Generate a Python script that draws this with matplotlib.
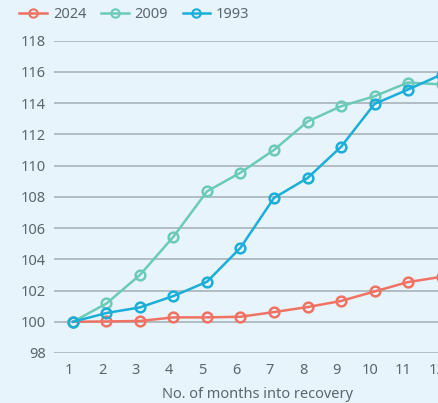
import matplotlib
matplotlib.use("Agg")
import matplotlib.pyplot as plt
from matplotlib.lines import Line2D
from matplotlib.transforms import ScaledTranslation

months = [1, 2, 3, 4, 5, 6, 7, 8, 9, 10, 11, 12]
series_2024 = [100, 100.02, 100.05, 100.28, 100.28, 100.32, 100.62, 100.94, 101.33, 101.94, 102.54, 102.88]
series_2009 = [100, 101.17, 103.0, 105.45, 108.35, 109.55, 111.0, 112.82, 113.8, 114.44, 115.32, 115.2]
series_1993 = [100, 100.56, 100.92, 101.65, 102.56, 104.74, 107.93, 109.2, 111.2, 113.95, 114.87, 115.83]
y_ticks = [98, 100, 102, 104, 106, 108, 110, 112, 114, 116, 118]
labels = ["2024", "2009", "1993"]

bg = "#e8f4fb"
text_col = "#5b6770"
grid_col = "#a8b2b9"
colors = ["#f07263", "#6ccab9", "#1aaed8"]

plt.rcParams["font.family"] = ["Noto Sans", "DejaVu Sans"]

fig = plt.figure(figsize=(4.39, 4.03), dpi=100, facecolor=bg)
ax = fig.add_axes([0.123, 0.1241, 0.9285, 0.775], facecolor=bg)

for vals, col in zip([series_2024, series_2009, series_1993], colors):
    ax.plot(months, vals, color=col, lw=1.8, marker="o", ms=7,
            mfc="none", mec=col, mew=1.8, clip_on=False, zorder=3)

ax.set_xlim(0.433, 12.6)
ax.set_ylim(98, 118)
ax.set_yticks(y_ticks)
ax.set_xticks(months)
ax.grid(axis="y", color=grid_col, lw=1.2)
ax.set_axisbelow(True)
for s in ax.spines.values():
    s.set_visible(False)
ax.tick_params(length=0, labelsize=10.5, labelcolor=text_col)
ax.tick_params(axis="x", pad=7)
ax.tick_params(axis="y", pad=6)

# nudge month labels slightly left of their category positions
shift = ScaledTranslation(-4.5 / 100, 0, fig.dpi_scale_trans)
for lbl in ax.get_xticklabels():
    lbl.set_transform(lbl.get_transform() + shift)

ax.set_xlabel("No. of months into recovery", fontsize=10.5, color=text_col, labelpad=7)

handles = [Line2D([], [], color=c, lw=1.8, marker="o", ms=6, mfc="none", mec=c, mew=1.5)
           for c in colors]
fig.legend(handles, labels, loc="upper left", bbox_to_anchor=(0.031, 0.997), ncol=3,
           frameon=False, fontsize=10.5, labelcolor=text_col, handlelength=1.9,
           handletextpad=0.4, columnspacing=1.0, borderaxespad=0)

fig.savefig("out.png", dpi=100, facecolor=bg)
